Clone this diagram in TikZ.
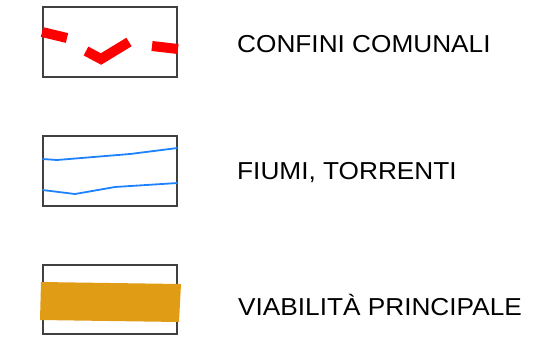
\documentclass[tikz,border=0pt]{standalone}
\usepackage{fontspec}
\setmainfont{Liberation Sans}[FakeStretch=1.07]
\begin{document}
\begin{tikzpicture}[x=1pt,y=-1pt,
  legbox/.style={draw=black!75,line width=1.1pt},
  lbl/.style={anchor=base west,inner sep=0pt,font=\fontsize{24.5}{29}\selectfont},
  border/.style={red,line width=10pt},
  river/.style={draw={rgb,255:red,30;green,130;blue,255},line width=1.8pt},
]
\definecolor{road}{RGB}{224,156,20}
\useasboundingbox (0,0) rectangle (541,360);
% box 1
\node[legbox,minimum width=134pt,minimum height=70pt,inner sep=0pt] (b1) at (110,42) {};
\draw[border] (42,32) -- (67,38);
\draw[border,line join=miter] (86,51) -- (101,59) -- (129,42);
\draw[border] (152,46) -- (178,49);
\node[lbl] (t1) at (237,52) {CONFINI COMUNALI};
% box 2
\node[legbox,minimum width=134pt,minimum height=70pt,inner sep=0pt] (b2) at (110,171) {};
\draw[river] (b2.west |- 0,159) -- (57,160) -- (130,154) -- (b2.east |- 0,148);
\draw[river] (b2.west |- 0,190) -- (75,194) -- (115,187) -- (b2.east |- 0,183);
\node[lbl] (t2) at (237,179) {FIUMI, TORRENTI};
% box 3
\node[legbox,minimum width=134pt,minimum height=69pt,inner sep=0pt] (b3) at (110,299.5) {};
\fill[road] (41,282) -- (181,284) -- (179,322) -- (40,320) -- cycle;
\node[lbl] (t3) at (238,315) {VIABILITÀ PRINCIPALE};
\end{tikzpicture}
\end{document}
